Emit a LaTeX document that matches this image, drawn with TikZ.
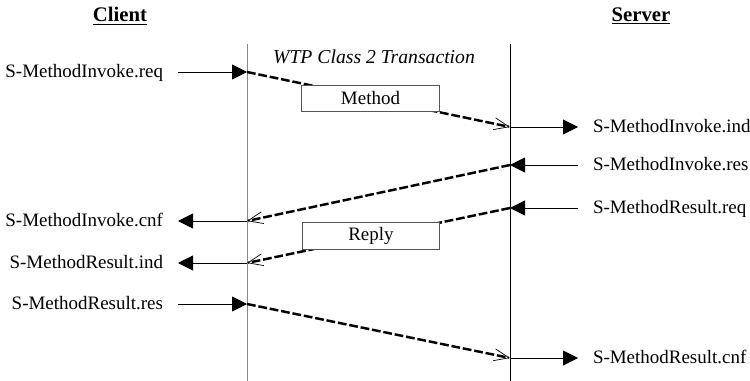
\documentclass[tikz,border=0pt]{standalone}
\usepackage{fontspec}
\setmainfont{Liberation Serif}
\usepackage{tikz}
\usetikzlibrary{
    arrows.meta,
    positioning
}
\definecolor{lifegray}{RGB}{135,135,135}
\definecolor{boxgray}{RGB}{85,85,85}
\newcommand{\primfont}{\fontsize{10.8}{13}\selectfont}
\tikzset{
    header/.style={
        font=\fontsize{11.8}{14}\selectfont\bfseries,
        inner sep=1pt
    },
    lifeline/.style={
        line width=0.5pt
    },
    primitive/.style={
        font=\primfont,
        inner sep=0pt,
        outer xsep=0.3cm,
        text height=1.3ex,
        text depth=0pt
    },
    call/.style={
        -{Triangle[length=0.3cm, width=0.3cm]},
        line width=0.55pt
    },
    message/.style={
        -{Straight Barb[length=0.3cm, width=0.24cm, line width=0.4pt]},
        line width=1.4pt,
        dash pattern=on 5pt off 1.6pt
    },
    pdu/.style={
        rectangle,
        draw=boxgray,
        fill=white,
        line width=0.6pt,
        inner sep=0pt,
        minimum width=2.75cm,
        minimum height=0.53cm,
        font=\primfont
    }
}

\begin{document}
\begin{tikzpicture}[x=0.02cm, y=-0.02cm]
    \useasboundingbox (0,0) rectangle (750,381);

    % Headings
    \node[header] (client) at (120,16) {\underline{Client}};
    \node[header] (server) at (641,16) {\underline{Server}};
    \node[font=\fontsize{11.2}{13}\selectfont\itshape] (trans) at (374,57)
        {WTP Class 2 Transaction};

    % Lifelines
    \coordinate (clienttop) at (247,44);
    \coordinate (clientbot) at (247,381);
    \coordinate (servertop) at (510,44);
    \coordinate (serverbot) at (510,381);
    \draw[lifeline, draw=lifegray] (clienttop) -- (clientbot);
    \draw[lifeline] (servertop) -- (serverbot);

    % Points on the lifelines
    \foreach \name/\y in {invreq/72, invcnf/221, resind/263, resres/304}
        \coordinate (c-\name) at (247,\y);
    \foreach \name/\y in {invind/127, invres/165, resreq/208, rescnf/358}
        \coordinate (s-\name) at (510,\y);

    % Service primitives
    \foreach \name/\y/\text in {
        invreq/72/S-MethodInvoke.req,
        invcnf/221/S-MethodInvoke.cnf,
        resind/263/S-MethodResult.ind,
        resres/304/S-MethodResult.res%
    } {
        \node[primitive, anchor=east] (p-\name) at (178,\y) {\text};
    }
    \foreach \name/\y/\text in {
        invind/127/S-MethodInvoke.ind,
        invres/165/S-MethodInvoke.res,
        resreq/208/S-MethodResult.req,
        rescnf/358/S-MethodResult.cnf%
    } {
        \node[primitive, anchor=west] (p-\name) at (578,\y) {\text};
    }

    \foreach \from/\to in {
        p-invreq/c-invreq, c-invcnf/p-invcnf,
        c-resind/p-resind, p-resres/c-resres,
        s-invind/p-invind, p-invres/s-invres,
        p-resreq/s-resreq, s-rescnf/p-rescnf%
    } {
        \draw[call] (\from) -- (\to);
    }

    % Transaction messages
    \draw[message] (c-invreq) -- (s-invind);
    \draw[message] (s-invres) -- (c-invcnf);
    \draw[message] (s-resreq) -- (c-resind);
    \draw[message] (c-resres) -- (s-rescnf);

    % PDUs
    \node[pdu] (method) at (370.5,98.5) {Method};
    \node[pdu] (reply) at (371,236) {Reply};
\end{tikzpicture}
\end{document}
